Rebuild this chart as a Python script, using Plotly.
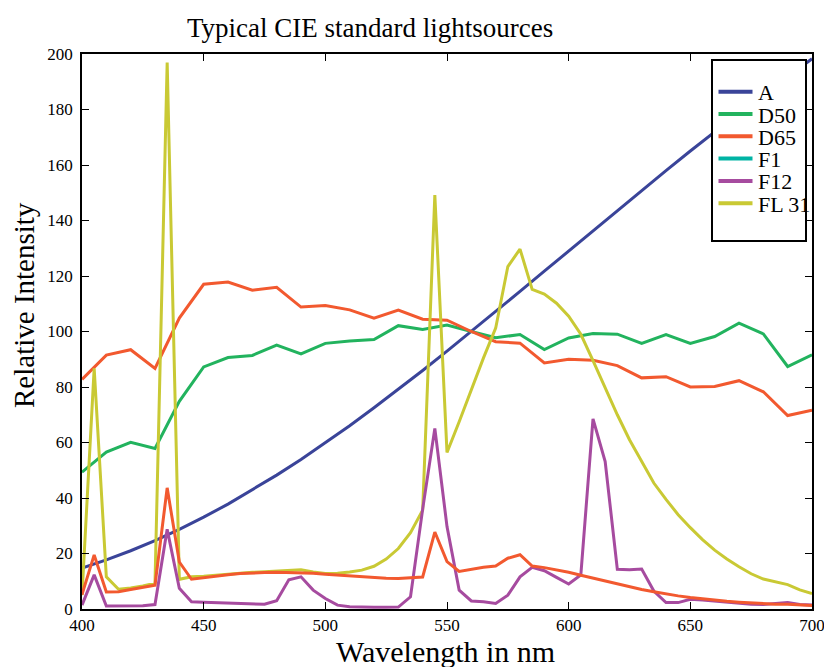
import plotly.graph_objects as go

# ---- data ----
wl10 = list(range(400, 701, 10))
wl5 = list(range(400, 701, 5))

A = [14.71, 17.68, 20.99, 24.67, 28.70, 33.09, 37.81, 42.87, 48.24, 53.91,
     59.86, 66.06, 72.50, 79.13, 85.95, 92.91, 100.00, 107.18, 114.44, 121.73,
     129.04, 136.35, 143.62, 150.84, 157.98, 165.03, 172.00, 178.77, 185.43, 191.93, 198.26]
D50 = [49.31, 56.51, 60.03, 57.82, 74.82, 87.25, 90.61, 91.37, 95.11, 91.96,
       95.72, 96.61, 97.13, 102.10, 100.75, 102.32, 100.00, 97.74, 98.92, 93.50,
       97.69, 99.27, 99.04, 95.72, 98.86, 95.67, 98.19, 103.00, 99.13, 87.38, 91.60]
D65 = [82.75, 91.49, 93.43, 86.68, 104.86, 117.01, 117.81, 114.86, 115.92, 108.81,
       109.35, 107.80, 104.79, 107.69, 104.41, 104.05, 100.00, 96.33, 95.79, 88.69,
       90.01, 89.60, 87.70, 83.29, 83.70, 80.03, 80.21, 82.28, 78.28, 69.72, 71.61]
F1 = [5.17, 19.49, 6.13, 6.24, 7.01, 7.79, 8.56, 43.67, 16.94, 10.72,
      11.35, 11.89, 12.37, 12.75, 13.00, 13.15, 13.23, 13.17, 13.13, 12.85,
      12.52, 12.20, 11.83, 11.50, 11.22, 11.05, 11.03, 11.18, 11.53, 27.74,
      17.05, 13.55, 14.33, 15.01, 15.52, 18.29, 19.55, 15.48, 14.91, 14.15,
      13.22, 12.19, 11.12, 10.03, 8.95, 7.96, 7.02, 6.20, 5.42, 4.73,
      4.15, 3.64, 3.20, 2.81, 2.47, 2.18, 1.93, 1.72, 1.67, 1.43, 1.29]
F12 = [1.4, 12.3, 1.1, 1.1, 1.1, 1.2, 1.6, 28.7, 7.5, 2.6,
       2.4, 2.3, 2.2, 2.0, 1.8, 1.7, 3.0, 10.5, 11.6, 6.8,
       3.8, 1.4, 0.8, 0.6, 0.6, 0.6, 0.7, 4.4, 36.0, 65.1,
       29.7, 6.8, 2.9, 2.6, 2.0, 5.0, 11.6, 15.0, 13.8, 11.4,
       9.0, 12.3, 68.5, 53.1, 14.3, 14.1, 14.4, 6.5, 2.3, 2.3,
       3.5, 3.2, 2.8, 2.4, 2.0, 1.7, 1.6, 2.0, 2.3, 1.6, 1.4]
FL31 = [5.0, 86.7, 11.6, 7.1, 7.6, 8.3, 9.3, 196.9, 10.7, 11.6,
        11.8, 12.2, 12.6, 12.9, 13.2, 13.4, 13.6, 13.9, 14.1, 13.3,
        12.8, 12.9, 13.3, 14.0, 15.4, 18.0, 21.8, 27.5, 35.6, 149.2,
        56.4, 67.5, 79.0, 90.5, 101.2, 123.4, 129.7, 115.2, 113.5, 110.2,
        105.5, 99.0, 89.5, 79.5, 70.0, 61.0, 53.0, 45.4, 39.5, 34.0,
        29.3, 25.0, 21.2, 18.0, 15.2, 12.7, 10.8, 9.7, 8.8, 6.9, 5.6]

x_ticks = [400, 450, 500, 550, 600, 650, 700]
y_ticks = list(range(0, 201, 20))

legend_names = ["A", "D50", "D65", "F1", "F12", "FL 31"]
legend_colors = ["#3a4499", "#22b35e", "#f2592f", "#00b3a4", "#a64b9f", "#c9c934"]
col = dict(zip(legend_names, legend_colors))

FONT = "Liberation Serif"
LW = 3

fig = go.Figure()
fig.add_trace(go.Scatter(x=wl10, y=A, mode="lines", name="A",
                         line=dict(color=col["A"], width=LW)))
fig.add_trace(go.Scatter(x=wl10, y=D50, mode="lines", name="D50",
                         line=dict(color=col["D50"], width=LW)))
fig.add_trace(go.Scatter(x=wl10, y=D65, mode="lines", name="D65",
                         line=dict(color=col["D65"], width=LW)))
fig.add_trace(go.Scatter(x=wl5, y=FL31, mode="lines", name="FL 31",
                         line=dict(color=col["FL 31"], width=LW)))
fig.add_trace(go.Scatter(x=wl5, y=F12, mode="lines", name="F12",
                         line=dict(color=col["F12"], width=LW)))
# the F1 curve appears in the D65 colour in the reference
fig.add_trace(go.Scatter(x=wl5, y=F1, mode="lines", name="F1",
                         line=dict(color=col["D65"], width=LW)))

axis_common = dict(showgrid=False, zeroline=False, showline=True, linecolor="black",
                   linewidth=1.5, mirror="ticks", ticks="inside", ticklen=7,
                   tickwidth=1.2, tickcolor="black", automargin=False,
                   ticklabeloverflow="allow",
                   tickfont=dict(family=FONT, size=17, color="black"))

fig.update_xaxes(range=[400, 700], tickvals=x_ticks, **axis_common)
fig.update_yaxes(range=[0, 200], tickvals=y_ticks, ticklabelstandoff=4, **axis_common)

W, H = 824, 667
L, T = 82, 54
pw, ph = 730, 555
R = W - L - pw
B = H - T - ph


def px(x):
    return (x - L) / pw


def py(y):
    return (H - B - y) / ph


shapes = [dict(type="rect", xref="paper", yref="paper",
               x0=px(712), x1=px(806), y0=py(241), y1=py(60),
               line=dict(color="black", width=2), fillcolor="white", layer="above")]
annotations = []
for i, (nm, c) in enumerate(zip(legend_names, legend_colors)):
    yy = 91.7 + 22.3 * i
    shapes.append(dict(type="line", xref="paper", yref="paper",
                       x0=px(718.5), x1=px(752.5), y0=py(yy), y1=py(yy),
                       line=dict(color=c, width=4), layer="above"))
    annotations.append(dict(text=nm, xref="paper", yref="paper",
                            x=px(755.5), y=py(yy + 1), xanchor="left", yanchor="middle",
                            showarrow=False,
                            font=dict(family=FONT, size=22, color="black")))

annotations += [
    dict(text="Typical CIE standard lightsources", xref="paper", yref="paper",
         x=px(370), y=py(28), xanchor="center", yanchor="middle", showarrow=False,
         font=dict(family=FONT, size=27, color="black")),
    dict(text="Wavelength in nm", xref="paper", yref="paper",
         x=px(445), y=py(651), xanchor="center", yanchor="middle", showarrow=False,
         font=dict(family=FONT, size=30, color="black")),
    dict(text="Relative Intensity", xref="paper", yref="paper",
         x=px(24), y=py(305), xanchor="center", yanchor="middle", showarrow=False,
         textangle=-90, font=dict(family=FONT, size=29, color="black")),
]

fig.update_layout(
    width=W, height=H, autosize=False,
    margin=dict(l=L, r=R, t=T, b=B, pad=0, autoexpand=False),
    plot_bgcolor="white", paper_bgcolor="white",
    font=dict(family=FONT, color="black"),
    showlegend=False,
    shapes=shapes,
    annotations=annotations,
)

fig.write_html(
    "out.html",
    config={"responsive": False, "displayModeBar": False},
    post_script=("document.documentElement.style.margin='0';"
                 "document.body.style.margin='0';"
                 "document.documentElement.style.overflow='hidden';"
                 "document.body.style.overflow='hidden';"),
)
